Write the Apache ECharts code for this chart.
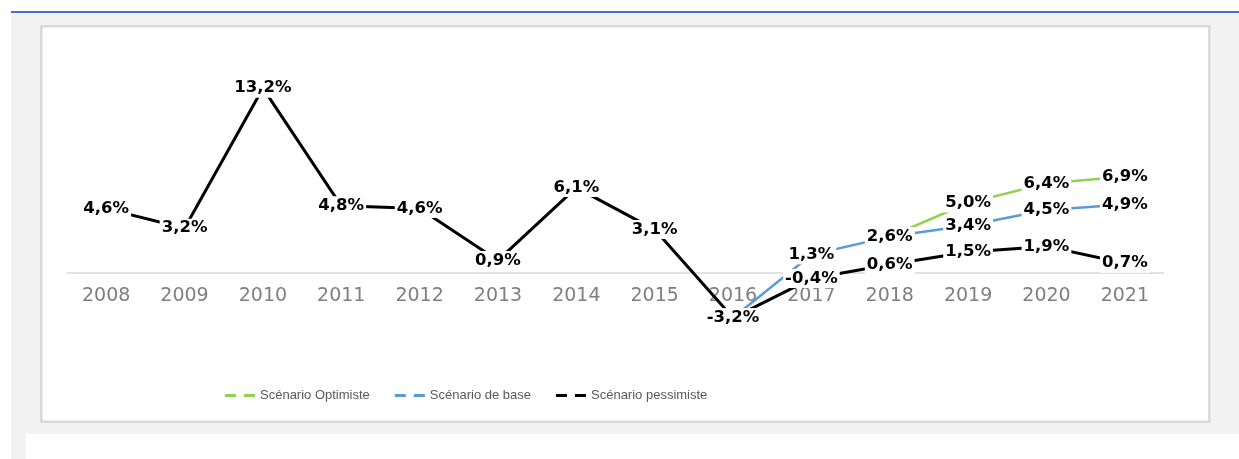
<!doctype html>
<html>
<head>
<meta charset="UTF-8">
<title>Scénarios</title>
<script src="https://cdn.jsdelivr.net/npm/echarts@6/dist/echarts.min.js"></script>
<style>
  html, body { margin: 0; padding: 0; background: #fff; }
  #main { width: 1239px; height: 459px; }
</style>
</head>
<body>
<div id="main"></div>
<script type="text/javascript">
// années
var annees = ['2008','2009','2010','2011','2012','2013','2014','2015','2016','2017','2018','2019','2020','2021'];
// scénario optimiste (vert)
var optimiste = [null, null, null, null, null, null, null, null, null, null, 2.6, 5.0, 6.4, 6.9];
// scénario de base (bleu)
var base = [null, null, null, null, null, null, null, null, -3.2, 1.3, 2.6, 3.4, 4.5, 4.9];
// scénario pessimiste (noir) = historique + projection
var pessimiste = [4.6, 3.2, 13.2, 4.8, 4.6, 0.9, 6.1, 3.1, -3.2, -0.4, 0.6, 1.5, 1.9, 0.7];

var noms = ['Scénario Optimiste', 'Scénario de base', 'Scénario pessimiste'];
var couleurs = ['#92d050', '#5b9bd5', '#000000'];

function fmt(p) {
  return p.value.toFixed(1).replace('.', ',') + '%';
}

function serie(nom, data, couleur, largeur) {
  return {
    name: nom,
    type: 'line',
    data: data,
    symbol: 'circle',
    symbolSize: 2,
    itemStyle: { color: couleur },
    lineStyle: { color: couleur, width: largeur },
    label: {
      show: true,
      position: 'inside',
      formatter: fmt,
      color: '#000',
      fontFamily: 'DejaVu Sans',
      fontWeight: 'bold',
      fontSize: 16.5,
      backgroundColor: '#fff',
      padding: [1, 2]
    }
  };
}

var myChart = echarts.init(document.getElementById('main'));
var option = {
  animation: false,
  color: couleurs,
  graphic: [
    { type: 'rect', z: -10, silent: true, shape: { x: 11, y: 13, width: 1228, height: 421 }, style: { fill: '#f2f2f2' } },
    { type: 'rect', z: -10, silent: true, shape: { x: 11, y: 434, width: 15, height: 25 }, style: { fill: '#f2f2f2' } },
    { type: 'rect', z: -10, silent: true, shape: { x: 11, y: 11, width: 1228, height: 2 }, style: { fill: '#4472c4' } },
    { type: 'rect', z: -9, silent: true, shape: { x: 41.3, y: 26.2, width: 1168, height: 395.5 },
      style: { fill: '#ffffff', stroke: '#d9d9d9', lineWidth: 2.5 } }
  ],
  grid: { left: 67, right: 75, top: 77, bottom: 102 },
  legend: {
    data: noms,
    left: 220,
    top: 384,
    icon: 'path://M0,0H11V3H0Z M19,0H30V3H19Z',
    itemWidth: 30,
    itemHeight: 3,
    itemGap: 25,
    textStyle: { color: '#595959', fontFamily: 'Liberation Sans', fontSize: 13 }
  },
  xAxis: {
    type: 'category',
    data: annees,
    boundaryGap: true,
    axisLine: { onZero: true, lineStyle: { color: '#d9d9d9', width: 1.5 } },
    axisTick: { show: false },
    // les années restent sous la ligne du zéro
    axisLabel: { color: '#7f7f7f', fontFamily: 'DejaVu Sans', fontSize: 19, margin: -70 }
  },
  yAxis: {
    type: 'value',
    min: -6,
    max: 14,
    axisLine: { show: false },
    axisTick: { show: false },
    axisLabel: { show: false },
    splitLine: { show: false }
  },
  series: [
    serie(noms[0], optimiste, couleurs[0], 2.5),
    serie(noms[1], base, couleurs[1], 2.5),
    serie(noms[2], pessimiste, couleurs[2], 3)
  ]
};
myChart.setOption(option);
</script>
</body>
</html>
